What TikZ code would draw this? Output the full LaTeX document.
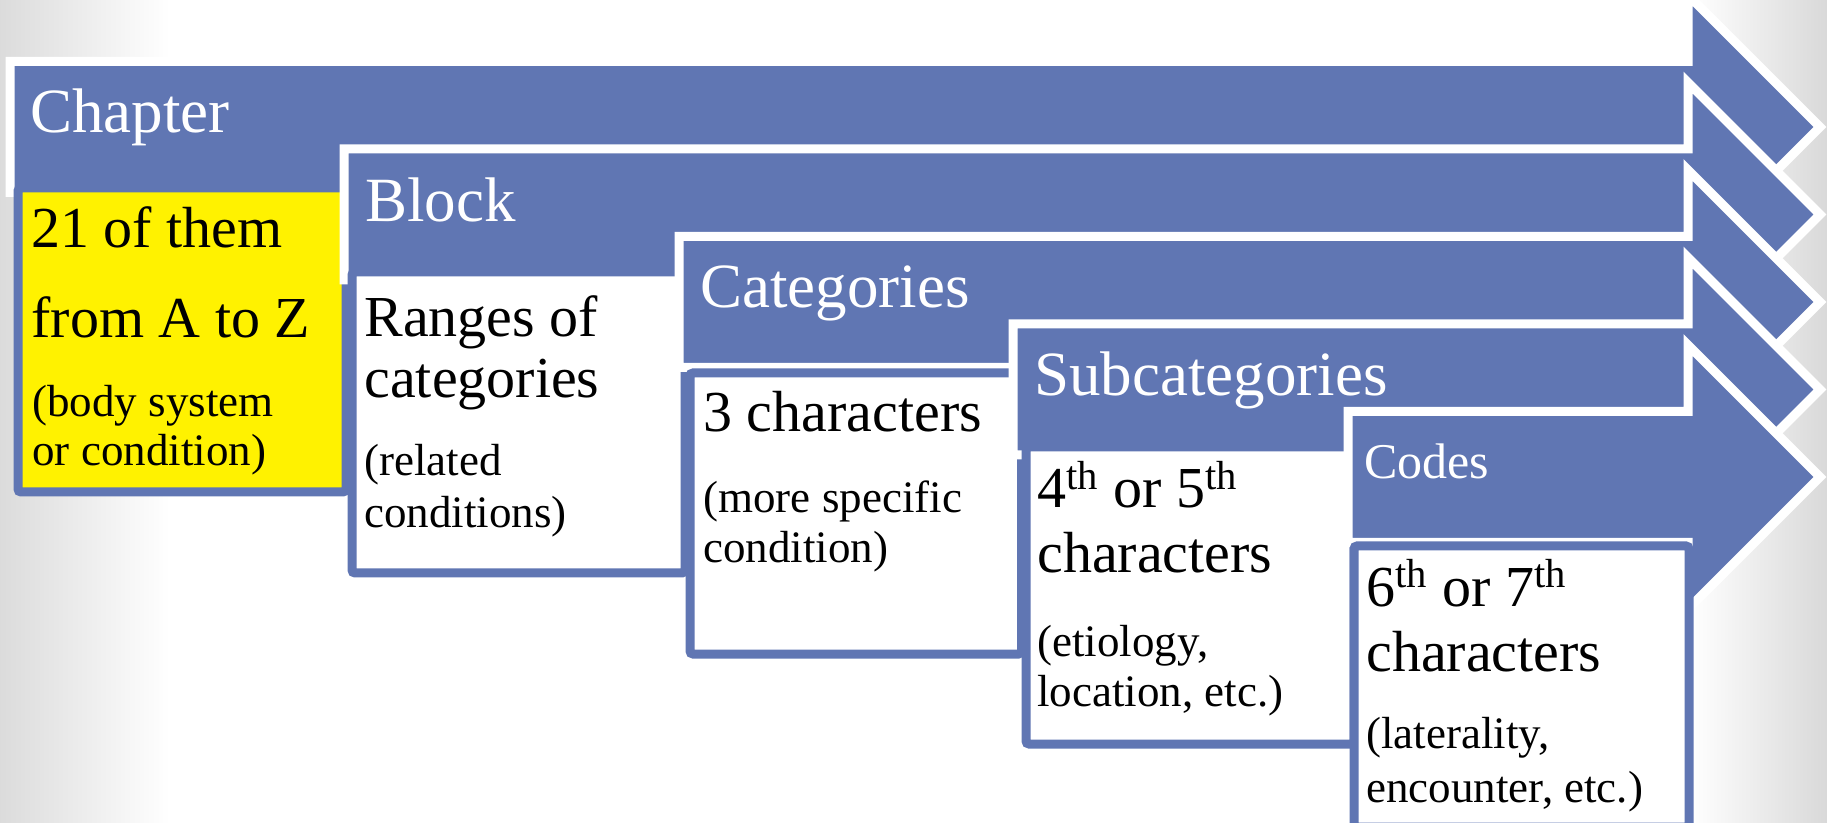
\documentclass[tikz,border=0pt]{standalone}
\usepackage{fontspec}
\setmainfont{Liberation Serif}

\definecolor{barblue}{RGB}{96,118,179}

\tikzset{
  band/.style={fill=barblue, draw=white, line width=4.5pt, line join=miter},
  descbox/.style={draw=barblue, fill=white, line width=4.5pt, rounded corners=1.5pt, inner sep=0pt, anchor=north west},
  titletext/.style={text=white, font=\fontsize{31.5}{36}\selectfont, inner sep=0pt, anchor=base west},
  mainline/.style={font=\fontsize{29}{34}\selectfont, inner sep=0pt, anchor=base west},
  noteline/.style={font=\fontsize{22.5}{27}\selectfont, inner sep=0pt, anchor=base west},
}

\begin{document}
\begin{tikzpicture}[x=0.5pt, y=-0.5pt]

  \useasboundingbox (0,0) rectangle (1827,823);
  % grey slide edges
  \shade[left color=black!14, right color=white] (0,0) rectangle (170,823);
  \shade[left color=white, right color=black!15] (1690,0) rectangle (1827,823);

  % chapter
  \path[band] (10,61.5) -- (1688,61.5) -- (1688,-5) -- (1820,127) -- (1688,259) -- (1688,192.5) -- (10,192.5) -- cycle;
  \node[titletext] (chaptitle) at (30,133) {Chapter};
  \node[descbox, fill=yellow, minimum width=164pt, minimum height=152pt] (chapbox) at (13.5,183.5) {};
  \node[mainline] (chap1) at (31,248) {21 of them};
  \node[mainline] (chap2) at (31,338) {from A to Z};
  \node[noteline] (chap3) at (32,417) {(body system};
  \node[noteline] (chap4) at (32,466) {or condition)};

  % block
  \path[band] (344,149) -- (1688,149) -- (1688,82.5) -- (1820,214.5) -- (1688,346.5) -- (1688,280) -- (344,280) -- cycle;
  \node[titletext] (blocktitle) at (365,222) {Block};
  \node[descbox, minimum width=166.5pt, minimum height=150.5pt] (blockbox) at (347.5,267.5) {};
  \node[mainline] (block1) at (364,337) {Ranges of};
  \node[mainline] (block2) at (364,398) {categories};
  \node[noteline] (block3) at (364,476) {(related};
  \node[noteline] (block4) at (364,528) {conditions)};

  % categories
  \path[band] (679,236.5) -- (1688,236.5) -- (1688,170) -- (1820,302) -- (1688,434) -- (1688,367.5) -- (679,367.5) -- cycle;
  \node[titletext] (cattitle) at (700,308) {Categories};
  \node[descbox, minimum width=165.75pt, minimum height=140.5pt] (catbox) at (685.5,368.5) {};
  \node[mainline] (cat1) at (703,432) {3 characters};
  \node[noteline] (cat2) at (703,513) {(more specific};
  \node[noteline] (cat3) at (703,563) {condition)};

  % subcategories
  \path[band] (1013,324) -- (1688,324) -- (1688,257.5) -- (1820,389.5) -- (1688,521.5) -- (1688,455) -- (1013,455) -- cycle;
  \node[titletext] (subtitle) at (1034,396) {Subcategories};
  \node[descbox, minimum width=164pt, minimum height=148.5pt] (subbox) at (1021.5,442.5) {};
  \node[mainline] (sub1) at (1037,508) {4\textsuperscript{th} or 5\textsuperscript{th}};
  \node[mainline] (sub2) at (1037,573) {characters};
  \node[noteline] (sub3) at (1037,656) {(etiology,};
  \node[noteline] (sub4) at (1037,706) {location, etc.)};

  % codes
  \path[band] (1348,411.5) -- (1688,411.5) -- (1688,345) -- (1820,477) -- (1688,609) -- (1688,542.5) -- (1348,542.5) -- cycle;
  \node[titletext, font=\fontsize{25}{29}\selectfont] (codetitle) at (1364,479) {Codes};
  \node[descbox, minimum width=167.5pt, minimum height=140.5pt] (codebox) at (1349.5,541.5) {};
  \node[mainline] (code1) at (1366,606) {6\textsuperscript{th} or 7\textsuperscript{th}};
  \node[mainline] (code2) at (1366,671) {characters};
  \node[noteline] (code3) at (1366,748) {(laterality,};
  \node[noteline] (code4) at (1366,802) {encounter, etc.)};

\end{tikzpicture}
\end{document}
